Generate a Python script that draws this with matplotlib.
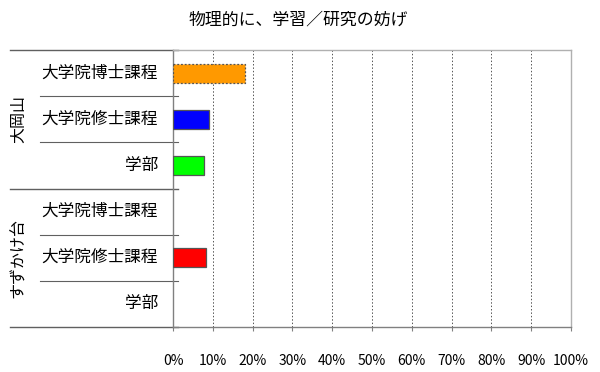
import matplotlib
matplotlib.use("Agg")
import matplotlib.pyplot as plt

plt.rcParams['font.family'] = ['Noto Sans CJK JP', 'DejaVu Sans']

title = "物理的に、学習／研究の妨げ"
groups = ["大岡山", "すずかけ台"]
categories = ["大学院博士課程", "大学院修士課程", "学部"]
values_ookayama = [18.2, 9.1, 7.9]
values_suzukake = [0.0, 8.4, 0.0]
colors_ookayama = ["#FF9900", "#0000FF", "#00FF00"]
colors_suzukake = ["#FFFFFF", "#FF0000", "#FFFFFF"]
xticks = [0, 10, 20, 30, 40, 50, 60, 70, 80, 90, 100]
xticklabels = [f"{t}%" for t in xticks]

values = values_ookayama + values_suzukake
colors = colors_ookayama + colors_suzukake
labels = categories + categories

fig = plt.figure(figsize=(6.0, 3.72), dpi=100)
ax = fig.add_axes([173/600, 1-326.7/372, 398/600, (326.7-50.3)/372])

n = len(values)
ypos = [i + 0.5 for i in range(n)]
for i, (y, v, c) in enumerate(zip(ypos, values, colors)):
    if v > 0:
        ls = (0, (1.5, 1.5)) if i == 0 else '-'
        ax.barh(y, v, height=0.4, color=c, edgecolor="#555555", linewidth=0.9,
                linestyle=ls, zorder=3)

ax.set_xlim(0, 100)
ax.set_ylim(n, 0)
ax.set_xticks(xticks)
ax.set_xticklabels(xticklabels, fontsize=10)
ax.tick_params(axis='x', length=3, width=0.8, color="#808080", pad=17)
ax.set_yticks([])

for t in xticks[1:-1]:
    ax.axvline(t, color="#555555", linestyle=(0, (1.5, 2)), linewidth=0.7, zorder=1)

ax.spines['top'].set_color("#b0b0b0")
ax.spines['right'].set_color("#b0b0b0")
ax.spines['left'].set_color("#808080")
ax.spines['bottom'].set_color("#808080")
for s in ax.spines.values():
    s.set_linewidth(1.0)

tr = ax.get_yaxis_transform()
x_outer = (10 - 173) / 398
x_inner = (40 - 173) / 398
x_end = (178 - 173) / 398
x_text = (158 - 173) / 398
x_group = (19 - 173) / 398

for y, lab in zip(ypos, labels):
    ax.text(x_text, y, lab, transform=tr, ha='right', va='center', fontsize=12, clip_on=False)

# separators
for b in range(n + 1):
    if b in (0, 3, 6):
        ax.plot([x_outer, x_end], [b, b], transform=tr, color="#606060", linewidth=1.0, clip_on=False)
    else:
        ax.plot([x_inner, x_end], [b, b], transform=tr, color="#606060", linewidth=0.8, clip_on=False)

for gi, g in enumerate(groups):
    ax.text(x_group, gi * 3 + 1.5, g, transform=tr, ha='center', va='center', rotation=90,
            fontsize=11.5, clip_on=False)

fig.text(298/600, 1 - 20/372, title, ha='center', va='center', fontsize=12.2)

fig.savefig("out.png", dpi=100, facecolor="white")
